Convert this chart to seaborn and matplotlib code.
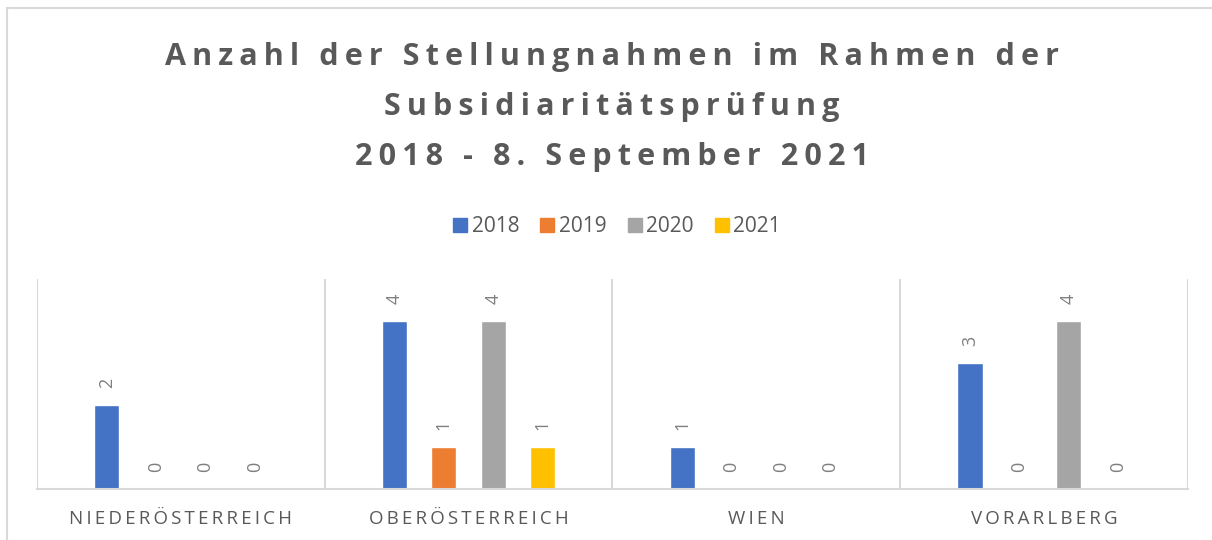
import matplotlib
matplotlib.use("Agg")
import matplotlib.pyplot as plt
import seaborn as sns
import pandas as pd
from matplotlib.patches import Rectangle
from matplotlib.lines import Line2D

# data
regions = ["NIEDERÖSTERREICH", "OBERÖSTERREICH", "WIEN", "VORARLBERG"]
years = ["2018", "2019", "2020", "2021"]
v2018 = [2, 4, 1, 3]
v2019 = [0, 1, 0, 0]
v2020 = [0, 4, 0, 4]
v2021 = [0, 1, 0, 0]
colors = ["#4472C4", "#ED7D31", "#A5A5A5", "#FFC000"]

rows = []
for year, vals in zip(years, [v2018, v2019, v2020, v2021]):
    for reg, v in zip(regions, vals):
        rows.append({"Region": reg, "Jahr": year, "Anzahl": v})
df = pd.DataFrame(rows)

sns.set_theme(style="white")
plt.rcParams["font.family"] = ["Open Sans", "DejaVu Sans"]

def spaced(s, sep="\u2009"):
    return sep.join(s)

fig = plt.figure(figsize=(12.12, 5.4), dpi=100)
ax = fig.add_axes([0.0305, 0.0944, 0.9495, 0.389])

sns.barplot(data=df, x="Region", y="Anzahl", hue="Jahr", order=regions,
            hue_order=years, palette=colors, width=0.685, gap=0.49,
            saturation=1, ax=ax, legend=False)

for cont in ax.containers:
    ax.bar_label(cont, rotation=90, padding=12, fontsize=13, color="#7f7f7f")

ax.set_ylim(0, 5)
ax.set_xlim(-0.5, 3.5)
ax.set_xlabel("")
ax.set_ylabel("")
ax.set_yticks([])
ax.set_xticks(range(len(regions)))
ax.set_xticklabels([spaced(r) for r in regions], fontsize=13.5, color="#595959")
ax.tick_params(axis="x", length=0, pad=15)
for s in ["top", "right", "left"]:
    ax.spines[s].set_visible(False)
ax.spines["bottom"].set_color("#d9d9d9")
ax.spines["bottom"].set_linewidth(1.5)
for b in [-0.5, 0.5, 1.5, 2.5, 3.5]:
    ax.axvline(b, color="#d9d9d9", linewidth=1.5, zorder=0)

# title
title_lines = ["Anzahl der Stellungnahmen im Rahmen der", "Subsidiaritätsprüfung", "2018 - 8. September 2021"]
for i, line in enumerate(title_lines):
    fig.text(0.505, 1 - (57 + 50 * i) / 540, spaced(line, "\u2009"), ha="center", va="center",
             fontsize=22, fontweight="bold", color="#595959")

# legend
handles = [Line2D([], [], marker="s", linestyle="", markersize=10, color=c) for c in colors]
fig.legend(handles, years, loc="center", bbox_to_anchor=(0.508, 1 - 227 / 540), ncol=4,
           frameon=False, fontsize=15, labelcolor="#595959", handletextpad=0.1,
           columnspacing=0.9, handlelength=0.9)

# outer frame
fig.patches.append(Rectangle((7 / 1212, -0.1), 1.2, 1 - 8 / 540 + 0.1, transform=fig.transFigure,
                             fill=False, edgecolor="#d9d9d9", linewidth=1.5))

fig.savefig("out.png", dpi=100)
